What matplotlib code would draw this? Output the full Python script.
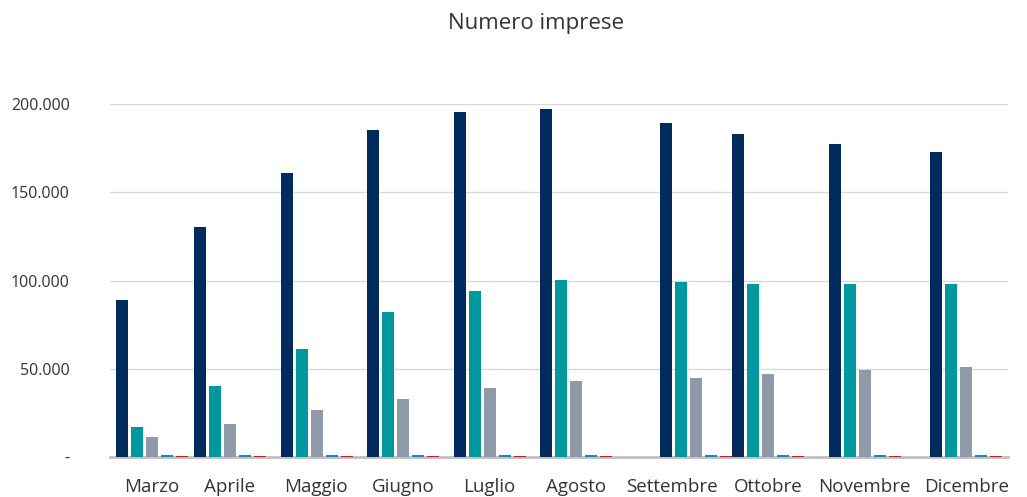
import matplotlib
matplotlib.use("Agg")
import matplotlib.pyplot as plt
from matplotlib.ticker import FuncFormatter
import numpy as np

plt.rcParams["font.family"] = ["Open Sans", "DejaVu Sans"]

mesi = ["Marzo", "Aprile", "Maggio", "Giugno", "Luglio", "Agosto",
        "Settembre", "Ottobre", "Novembre", "Dicembre"]
serie_1 = [89000, 130300, 160900, 185300, 195500, 197200, 189200, 183000, 177300, 172800]
serie_2 = [17000, 40200, 61200, 82200, 94100, 100300, 99200, 98000, 98000, 98000]
serie_3 = [11300, 18700, 26600, 32900, 39100, 43100, 44800, 47000, 49300, 51000]
serie_4 = [900, 900, 900, 900, 900, 900, 900, 900, 900, 900]
serie_5 = [600, 600, 600, 600, 600, 600, 600, 600, 600, 600]

# category slots are not evenly spaced on this axis
pos_gruppi = [0, 0.869, 1.837, 2.795, 3.764, 4.722, 6.058, 6.860, 7.940, 9.065]
pos_etichette = [0, 0.869, 1.826, 2.795, 3.753, 4.722, 5.791, 6.860, 7.929, 9.076]

colori = ["#002b5c", "#00979e", "#8e9aa8", "#1f84c2", "#c0202a"]

fig = plt.figure(figsize=(10.27, 4.97), dpi=100)
ax = fig.add_axes([0.1071, 0.0805, 0.8744, 0.7102])

x = np.array(pos_gruppi)
step, w = 0.167, 0.134
for i, (vals, c) in enumerate(zip([serie_1, serie_2, serie_3, serie_4, serie_5], colori)):
    ax.bar(x + (i - 2) * step, vals, width=w, color=c, zorder=3)

ax.set_xlim(-0.468, 9.532)
ax.set_ylim(0, 200000)
ax.set_yticks([0, 50000, 100000, 150000, 200000])
ax.yaxis.set_major_formatter(FuncFormatter(
    lambda v, _: "-" if v == 0 else f"{int(v):,}".replace(",", ".")))
ax.set_xticks(pos_etichette)
ax.set_xticklabels(mesi)
ax.tick_params(axis="both", length=0, colors="#333333")
ax.tick_params(axis="x", pad=15, labelsize=13.5)
ax.tick_params(axis="y", pad=29, labelsize=11.5)

ax.grid(axis="y", color="#d9d9d9", linewidth=1.0, zorder=0)
for s in ["top", "right", "left"]:
    ax.spines[s].set_visible(False)
ax.spines["bottom"].set_color("#bfbfbf")
ax.spines["bottom"].set_linewidth(2)
ax.spines["bottom"].set_zorder(2)

fig.text(0.522, 0.953, "Numero imprese", ha="center", va="center",
         fontsize=16, color="#333333")

fig.savefig("out.png", dpi=100)
